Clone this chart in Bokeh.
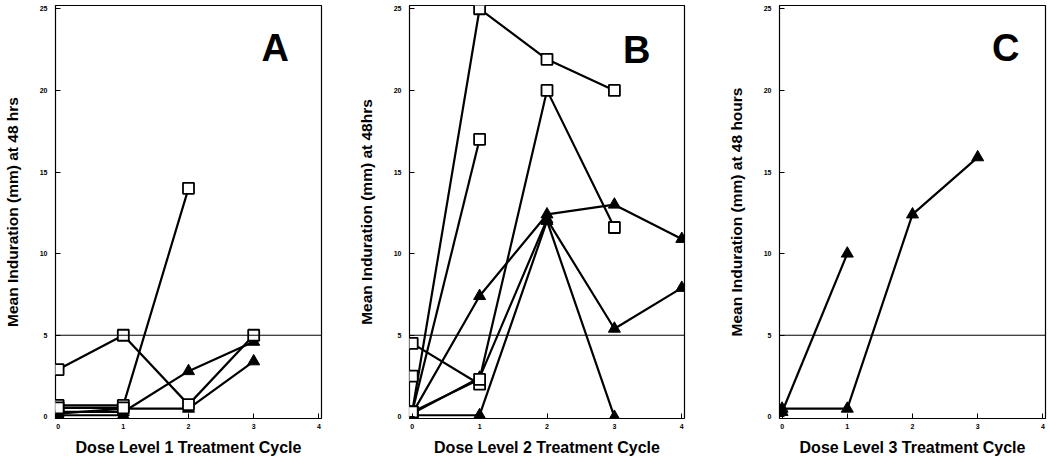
from bokeh.plotting import figure
from bokeh.layouts import row
from bokeh.models import Range1d, Span, Label, FixedTicker
from bokeh.embed import file_html
from bokeh.resources import INLINE

# ---------------- data ----------------
cycle_ticks = [0, 1, 2, 3, 4]
induration_ticks = [0, 5, 10, 15, 20, 25]
threshold_mm = 5

x_titles = ["Dose Level 1 Treatment Cycle", "Dose Level 2 Treatment Cycle", "Dose Level 3 Treatment Cycle"]
y_titles = ["Mean Induration (mm) at 48 hrs", "Mean Induration (mm) at 48hrs", "Mean Induration (mm) at 48 hours"]
panel_letters = ["A", "B", "C"]

# Panel A (dose level 1)
a_sq1_x = [0, 1, 2, 3];  a_sq1_y = [2.9, 5.0, 0.75, 5.0]
a_sq2_x = [0, 1, 2];     a_sq2_y = [0.7, 0.7, 14.0]
a_sq3_x = [0, 1];        a_sq3_y = [0.55, 0.55]
a_tr1_x = [0, 1, 2, 3];  a_tr1_y = [0.3, 0.3, 2.8, 4.6]
a_tr2_x = [0, 1, 2, 3];  a_tr2_y = [0.2, 0.5, 0.5, 3.4]
a_tr3_x = [0, 1];        a_tr3_y = [0.1, 0.1]

# Panel B (dose level 2)
b_sq1_x = [0, 1, 2, 3];     b_sq1_y = [0.3, 25.0, 21.9, 20.0]
b_sq2_x = [0, 1];           b_sq2_y = [0.3, 17.0]
b_sq3_x = [0, 1];           b_sq3_y = [4.5, 2.0]
b_sq4_x = [0, 1, 2, 3];     b_sq4_y = [0.3, 2.3, 20.0, 11.6]
b_sq5_x = [0];              b_sq5_y = [2.5]
b_tr1_x = [0, 1, 2, 3, 4];  b_tr1_y = [0.2, 7.4, 12.4, 13.0, 10.9]
b_tr2_x = [0, 1, 2, 3, 4];  b_tr2_y = [0.2, 2.4, 12.1, 5.4, 7.9]
b_tr3_x = [0, 1, 2, 3];     b_tr3_y = [0.1, 0.1, 12.0, 0.0]

# Panel C (dose level 3)
c_tr1_x = [0, 1];        c_tr1_y = [0.3, 10.0]
c_tr2_x = [0, 1, 2, 3];  c_tr2_y = [0.5, 0.5, 12.4, 15.9]

panel_series = [
    {"squares": [(a_sq1_x, a_sq1_y), (a_sq2_x, a_sq2_y), (a_sq3_x, a_sq3_y)],
     "triangles": [(a_tr1_x, a_tr1_y), (a_tr2_x, a_tr2_y), (a_tr3_x, a_tr3_y)]},
    {"squares": [(b_sq1_x, b_sq1_y), (b_sq2_x, b_sq2_y), (b_sq3_x, b_sq3_y),
                 (b_sq4_x, b_sq4_y), (b_sq5_x, b_sq5_y)],
     "triangles": [(b_tr1_x, b_tr1_y), (b_tr2_x, b_tr2_y), (b_tr3_x, b_tr3_y)]},
    {"squares": [],
     "triangles": [(c_tr1_x, c_tr1_y), (c_tr2_x, c_tr2_y)]},
]

# ---------------- layout ----------------
FONT = "Liberation Sans"
HEIGHT = 458
B_TOP = 5
B_BOTTOM = 39
panel_widths = [345, 367, 336]
panel_left = [51, 64, 67]
panel_right = [24, 28, 3]
letter_pos = [(3.33, 22.6), (3.33, 22.5), (3.43, 22.6)]


def make_panel(i):
    p = figure(width=panel_widths[i], height=HEIGHT, output_backend="svg",
               toolbar_location=None,
               x_range=Range1d(-0.04, 4.04), y_range=Range1d(-0.1, 25.2),
               min_border_left=panel_left[i], min_border_right=panel_right[i],
               min_border_top=B_TOP, min_border_bottom=B_BOTTOM)
    p.background_fill_color = "white"
    p.border_fill_color = "white"
    p.outline_line_color = "black"
    p.outline_line_width = 1.2
    p.xgrid.visible = False
    p.ygrid.visible = False

    for ax in (p.xaxis[0], p.yaxis[0]):
        ax.axis_line_color = None
        ax.major_tick_in = 5
        ax.major_tick_out = 0
        ax.major_tick_line_color = "black"
        ax.minor_tick_line_color = None
        ax.major_label_text_font = FONT
        ax.major_label_text_font_style = "bold"
        ax.major_label_text_font_size = "7px"
        ax.major_label_text_color = "black"
        ax.axis_label_text_font = FONT
        ax.axis_label_text_font_style = "bold"
        ax.axis_label_text_color = "black"

    p.xaxis.ticker = FixedTicker(ticks=cycle_ticks)
    p.yaxis.ticker = FixedTicker(ticks=induration_ticks)
    p.xaxis.axis_label = x_titles[i]
    p.yaxis.axis_label = y_titles[i]
    p.xaxis.axis_label_text_font_size = "16px"
    p.yaxis.axis_label_text_font_size = "15.5px"
    p.xaxis.major_label_standoff = 5
    p.xaxis.axis_label_standoff = 7
    p.yaxis.major_label_standoff = 8
    p.yaxis.axis_label_standoff = 16

    p.add_layout(Span(location=threshold_mm, dimension="width",
                      line_color="black", line_width=1))

    s = panel_series[i]
    for xs, ys in s["squares"] + s["triangles"]:
        if len(xs) > 1:
            p.line(xs, ys, line_color="black", line_width=2.2)
    for xs, ys in s["triangles"]:
        p.scatter(xs, ys, marker="triangle", size=12, fill_color="black",
                  line_color="black", line_width=1)
    for xs, ys in s["squares"]:
        p.scatter(xs, ys, marker="square", size=11, fill_color="white",
                  line_color="black", line_width=1.8)

    lx, ly = letter_pos[i]
    p.add_layout(Label(x=lx, y=ly, text=panel_letters[i], text_font=FONT,
                       text_font_style="bold", text_font_size="38px",
                       text_align="center", text_baseline="middle",
                       text_color="black"))
    return p


panels = [make_panel(i) for i in range(3)]
layout = row(*panels, spacing=0)

open("out.html", "w").write(file_html(layout, INLINE))
